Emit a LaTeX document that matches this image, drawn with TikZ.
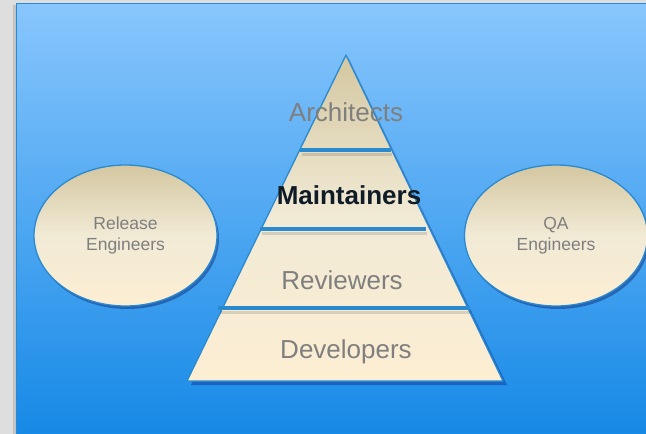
\documentclass[tikz,border=0pt]{standalone}
\usepackage{fontspec}
\setmainfont{Liberation Sans}
\usetikzlibrary{shadows,shapes.geometric}
\definecolor{bgtop}{HTML}{88C6FD}
\definecolor{bgbot}{HTML}{1689E6}
\definecolor{edgeblue}{HTML}{2A8AD0}
\definecolor{tantop}{HTML}{D4C7A1}
\definecolor{tanmid}{HTML}{F1EAD5}
\definecolor{tanbot}{HTML}{FCEED3}
\definecolor{txtgray}{HTML}{7F7F7F}
\definecolor{txtdark}{HTML}{0F1B26}
\definecolor{pagegray}{HTML}{DEDEDE}
\tikzset{
  x=1pt,y=-1pt,
  bigtxt/.style={font=\fontsize{26}{30}\selectfont,text=txtgray,inner sep=0pt},
  smalltxt/.style={font=\fontsize{17.5}{21}\selectfont,text=txtgray,align=center,inner sep=0pt},
  bandline/.style={draw=edgeblue,line width=4pt},
  ovalbox/.style={ellipse,minimum width=183pt,minimum height=141pt,draw=edgeblue,line width=1.3pt,
    top color=tantop,bottom color=tanbot,middle color=tanmid,
    drop shadow={opacity=0.35,shadow xshift=2pt,shadow yshift=-3pt,fill=black!70!blue}},
}
\begin{document}
\begin{tikzpicture}
\useasboundingbox (0,0) rectangle (646,434);
\fill[pagegray] (0,0) rectangle (646,434);
\fill[black,opacity=0.12] (13,5) rectangle (16,434);
\shade[top color=bgtop,bottom color=bgbot] (16,3) rectangle (648,436);
\draw[edgeblue,line width=1.5pt] (16.5,436) -- (16.5,3.5) -- (648,3.5);
% pyramid shadow
\fill[black!60!blue,opacity=0.3] (349,59) -- (507,385) -- (191,385) -- cycle;
% pyramid
\coordinate (apex) at (346,55);
\coordinate (bl) at (187,381);
\coordinate (br) at (503,381);
\shade[top color=tantop,bottom color=tanbot,middle color=tanmid] (apex) -- (br) -- (bl) -- cycle;
\draw[edgeblue,line width=1.3pt,line join=round] (apex) -- (br) -- (bl) -- cycle;
% band separators with shadow
\draw[black,opacity=0.12,line width=3pt] (302,154.5) -- (392,154.5);
\draw[black,opacity=0.12,line width=3pt] (262,233.5) -- (427,233.5);
\draw[black,opacity=0.12,line width=3pt] (220,312.5) -- (471,312.5);
\coordinate (s1a) at (300,150); \coordinate (s1b) at (391,150);
\coordinate (s2a) at (260,229); \coordinate (s2b) at (426,229);
\coordinate (s3a) at (218,308); \coordinate (s3b) at (470,308);
\draw[bandline] (s1a) -- (s1b);
\draw[bandline] (s2a) -- (s2b);
\draw[bandline] (s3a) -- (s3b);
% texts
\node[bigtxt] (arch) at (346,112) {Architects};
\node[bigtxt,font=\fontsize{26}{30}\selectfont\bfseries,text=txtdark] (maint) at (349,195) {Maintainers};
\node[bigtxt] (rev) at (342,280) {Reviewers};
\node[bigtxt] (dev) at (346,352) {Developers};
% ovals
\node[ovalbox] (rel) at (125.5,235.5) {};
\node[smalltxt] (reltxt) at (rel) {Release\\Engineers};
\node[ovalbox] (qa) at (556,235.5) {};
\node[smalltxt] (qatxt) at (qa) {QA\\Engineers};
\end{tikzpicture}
\end{document}
